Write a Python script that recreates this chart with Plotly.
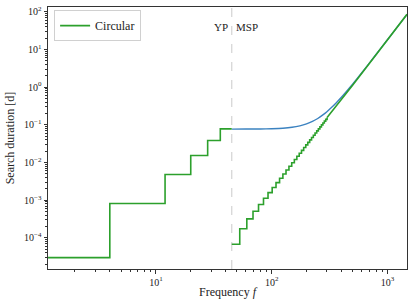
import math
import plotly.graph_objects as go

# Young-pulsar (YP) regime staircase: bin edges [Hz] and search durations [d]
yp_edges = [1.17, 4, 12, 20, 28, 36, 45.2]
yp_vals = [3.0e-5, 8.2e-4, 4.8e-3, 0.0154, 0.0385, 0.078, 0.078]

# MSP regime staircase (8 Hz bins)
msp_edges = [45.2, 53, 61, 69, 77, 85, 93, 101, 109, 117, 125, 133, 141, 149,
             157, 165, 173, 181, 189, 197, 205, 213, 221, 229, 237, 245, 253,
             261, 269, 277, 285, 293, 301]
msp_vals = [6.8e-5, 1.75e-4, 3.2e-4, 5.09e-4, 7.73e-4, 1.125e-3, 1.59e-3,
            2.18e-3, 2.92e-3, 3.84e-3, 4.97e-3, 6.31e-3, 7.93e-3, 9.82e-3,
            1.205e-2, 1.46e-2, 1.76e-2, 2.10e-2, 2.49e-2, 2.93e-2, 3.42e-2,
            3.98e-2, 4.60e-2, 5.28e-2, 6.05e-2, 6.89e-2, 7.82e-2, 8.83e-2,
            9.95e-2, 0.1117, 0.125, 0.1396, 0.155]
# upper MSP range (steps below pixel size)
msp_hi_f = [301, 400, 500, 700, 1000, 1475]
msp_hi_vals = [0.155, 0.459, 1.12, 4.31, 17.9, 84.9]

# continuous (blue) curve
blue_f = [45.2, 60, 80, 100, 125, 150, 175, 200, 225, 250, 275, 300, 330,
          360, 400, 450, 500, 600, 700, 800, 1000, 1200, 1475]
blue_vals = [0.077, 0.0772, 0.0776, 0.0788, 0.0813, 0.086, 0.094, 0.106,
             0.123, 0.147, 0.180, 0.222, 0.290, 0.378, 0.536, 0.812, 1.197,
             2.40, 4.38, 7.42, 18.0, 37.25, 84.9]

divider_f = 45.2
x_range = [1.17, 1475]
y_range = [1.5e-5, 133]
x_ticks = [10, 100, 1000]
x_ticklabels = ["10<sup>1</sup>", "10<sup>2</sup>", "10<sup>3</sup>"]
y_ticks = [1e-4, 1e-3, 1e-2, 1e-1, 1, 10, 100]
y_ticklabels = ["10<sup>−4</sup>", "10<sup>−3</sup>", "10<sup>−2</sup>",
                "10<sup>−1</sup>", "10<sup>0</sup>", "10<sup>1</sup>",
                "10<sup>2</sup>"]

GREEN = "#2ca02c"
BLUE = "#3b82c0"
FONT = "Liberation Serif"
AX = "#333333"
TXT = "#222222"

fig = go.Figure()
fig.add_trace(go.Scatter(x=blue_f, y=blue_vals, mode="lines",
                         line=dict(color=BLUE, width=1.4, shape="spline",
                                   smoothing=0.6),
                         showlegend=False, hoverinfo="skip"))
fig.add_trace(go.Scatter(x=yp_edges, y=yp_vals, mode="lines",
                         line=dict(color=GREEN, width=1.6, shape="hv"),
                         name="Circular", legendgroup="c"))
fig.add_trace(go.Scatter(x=msp_edges, y=msp_vals, mode="lines",
                         line=dict(color=GREEN, width=1.6, shape="hv"),
                         name="Circular", legendgroup="c", showlegend=False))
fig.add_trace(go.Scatter(x=msp_hi_f, y=msp_hi_vals, mode="lines",
                         line=dict(color=GREEN, width=1.6),
                         name="Circular", legendgroup="c", showlegend=False))

fig.add_shape(type="line", x0=divider_f, x1=divider_f, y0=0, y1=1,
              xref="x", yref="paper",
              line=dict(color="#d4d4d4", width=1.2, dash="dash"), layer="below")
fig.add_annotation(x=math.log10(divider_f), y=0.955, xref="x", yref="paper",
                   text="YP", showarrow=False, xanchor="right", xshift=-2,
                   font=dict(family=FONT, size=11, color=TXT))
fig.add_annotation(x=math.log10(divider_f), y=0.955, xref="x", yref="paper",
                   text="MSP", showarrow=False, xanchor="left", xshift=2,
                   font=dict(family=FONT, size=11, color=TXT))

axis_common = dict(type="log", showgrid=False, zeroline=False,
                   showline=True, linecolor=AX, linewidth=1, mirror=True,
                   ticks="outside", ticklen=3.5, tickcolor=AX, tickwidth=1,
                   automargin=False,
                   tickfont=dict(family=FONT, size=10, color=TXT),
                   minor=dict(ticks="outside", ticklen=2, tickcolor=AX,
                              dtick="D1", showgrid=False))
fig.update_xaxes(range=[math.log10(x_range[0]), math.log10(x_range[1])],
                 tickmode="array", tickvals=x_ticks, ticktext=x_ticklabels,
                 title=dict(text="Frequency <i>f</i>", standoff=1,
                            font=dict(family=FONT, size=12, color=TXT)),
                 **axis_common)
fig.update_yaxes(range=[math.log10(y_range[0]), math.log10(y_range[1])],
                 tickmode="array", tickvals=y_ticks, ticktext=y_ticklabels,
                 title=dict(text="Search duration [d]", standoff=6,
                            font=dict(family=FONT, size=12, color=TXT)),
                 **axis_common)

fig.update_layout(
    width=416, height=304,
    margin=dict(l=48, r=9, t=7, b=35),
    plot_bgcolor="white", paper_bgcolor="white",
    font=dict(family=FONT, size=10, color=TXT),
    legend=dict(x=0.017, y=0.988, xanchor="left", yanchor="top",
                bgcolor="white", bordercolor="#d0d0d0", borderwidth=1,
                font=dict(family=FONT, size=12, color=TXT),
                itemwidth=30, tracegroupgap=0),
)

fig.write_html("out.html",
               config={"displayModeBar": False},
               post_script="document.body.style.margin='0';"
                           "document.body.style.padding='0';")
